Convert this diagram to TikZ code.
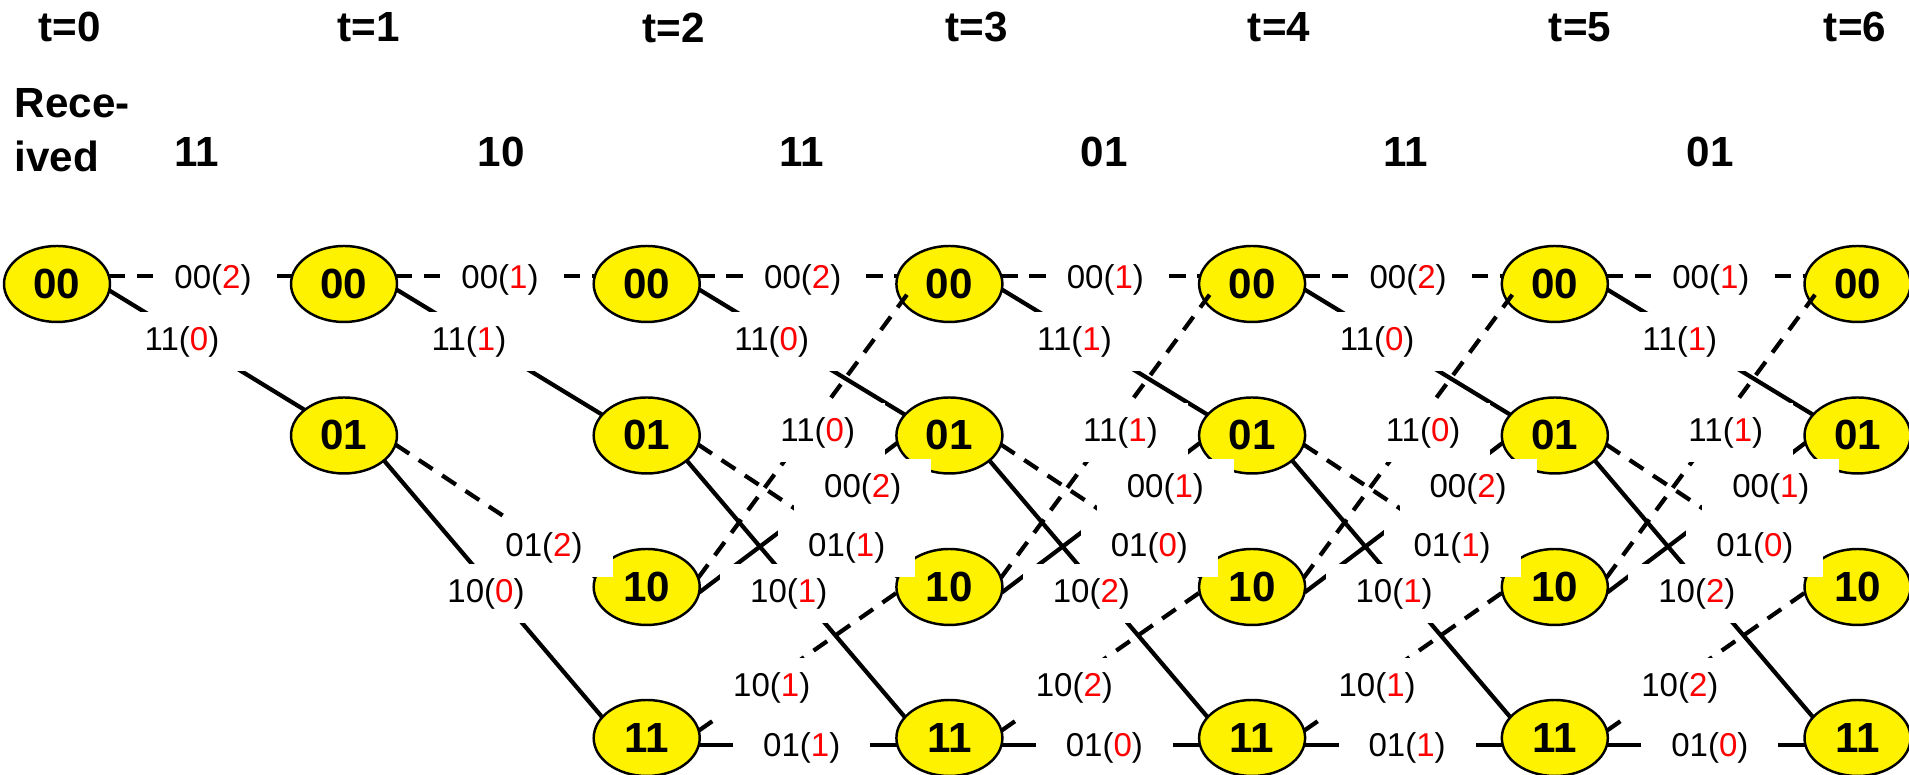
\documentclass[tikz,border=0pt]{standalone}
\usepackage{fontspec}
\setmainfont{Liberation Sans}
\usepackage{xcolor}
\usepackage{tikz}
\usetikzlibrary{shapes.geometric}

\newcommand{\brlabel}[2]{#1(\textcolor{red}{#2})}

\begin{document}
\begin{tikzpicture}[
    font=\fontsize{12}{14}\selectfont\bfseries,
    state/.style={
		ellipse,
		draw=black,
		line width=0.7pt,
		fill=yellow,
		minimum width=1.06cm,
		minimum height=0.76cm,
		inner sep=0pt,
		outer sep=0pt
	},
	one/.style={
		line width=1.2pt
	},
	zero/.style={
		line width=1.2pt,
		dash pattern=on 0.165cm off 0.115cm
	},
	metric/.style={
		fill=white,
		font=\fontsize{9.4}{11}\selectfont,
		inner xsep=0.3cm,
		inner ysep=0.14cm,
		text height=0.24cm,
		text depth=0.07cm
	},
	topmetric/.style={
		metric,
		inner xsep=0.2cm
	}
  ]
  \useasboundingbox (0,0) rectangle (19.09,7.75);

    % We start by placing the time steps and the received pairs
  \foreach \t/\x in {0/0.70,1/3.69,2/6.74,3/9.77,4/12.79,5/15.80,6/18.55}
    \node (time\t) at (\x,7.475) {t=\t};

  \node [align=left, anchor=north west, inner sep=0pt,
         font=\fontsize{12}{15.4}\selectfont\bfseries] (rcv) at (0.14,6.87) {Rece-\\ived};

  \foreach \r/\x [count=\i] in {11/1.97,10/5.01,11/8.02,01/11.04,11/14.06,01/17.10}
    \node (rcv\i) at (\x,6.23) {\r};

    % then the states
  \node [state] (s00-0) at (0.57,4.91) {00};
  \node [state] (s00-1) at (3.44,4.91) {00};
  \node [state] (s01-1) at (3.44,3.395) {01};
  \foreach \t/\x in {2/6.467,3/9.494,4/12.521,5/15.548,6/18.575}
    \foreach \s/\y in {00/4.91,01/3.395,10/1.88,11/0.37}
      \node [state] (s\s-\t) at (\x,\y) {\s};

    % branches: dashed for input 0, solid for input 1
  \draw [zero] (s00-0.9) -- (s00-1.171);
  \draw [one] (s00-0.353) -- (s01-1.147);
  \foreach \a/\b in {1/2,2/3,3/4,4/5,5/6} {
    \draw [zero] (s00-\a.9) -- (s00-\b.171);
    \draw [one] (s00-\a.354) -- (s01-\b.155);
    \draw [zero] (s01-\a.350) -- (s10-\b.169);
    \draw [one] (s01-\a.328) -- (s11-\b.155);
  }
  \foreach \a/\b in {2/3,3/4,4/5,5/6} {
    \draw [zero, shorten >=-0.08cm] (s10-\a.10) -- (s00-\b.200);
    \draw [one] (s10-\a.354) -- (s01-\b.188);
    \draw [zero] (s11-\a.8) -- (s10-\b.186);
    \draw [one] (s11-\a.352) -- (s11-\b.188);
  }

    % branch outputs and their distances, on top of everything
  \node [topmetric] (mA0) at (2.13,4.95) {\brlabel{00}{2}};
  \node [metric] (mB0) at (1.82,4.33) {\brlabel{11}{0}};
  \node [topmetric] (mA1) at (5.00,4.95) {\brlabel{00}{1}};
  \node [metric] (mB1) at (4.69,4.33) {\brlabel{11}{1}};
  \node [metric] (mE1) at (5.44,2.27) {\brlabel{01}{2}};
  \node [metric] (mF1) at (4.86,1.81) {\brlabel{10}{0}};
  \foreach \a/\x/\p/\q/\u/\v in {2/6.467/2/0/1/1,3/9.494/1/1/0/2,4/12.521/2/0/1/1,5/15.548/1/1/0/2} {
    \node [topmetric] (mA\a) at ({\x+1.56},4.95) {\brlabel{00}{\p}};
    \node [metric] (mB\a) at ({\x+1.25},4.33) {\brlabel{11}{\q}};
    \node [metric] (mC\a) at ({\x+1.71},3.42) {\brlabel{11}{\q}};
    \node [metric] (mD\a) at ({\x+2.16},2.86) {\brlabel{00}{\p}};
    \node [metric] (mE\a) at ({\x+2.00},2.27) {\brlabel{01}{\u}};
    \node [metric] (mF\a) at ({\x+1.42},1.81) {\brlabel{10}{\v}};
    \node [metric] (mG\a) at ({\x+1.25},0.87) {\brlabel{10}{\v}};
    \node [metric] (mH\a) at ({\x+1.55},0.27) {\brlabel{01}{\u}};
  }

\end{tikzpicture}
\end{document}
